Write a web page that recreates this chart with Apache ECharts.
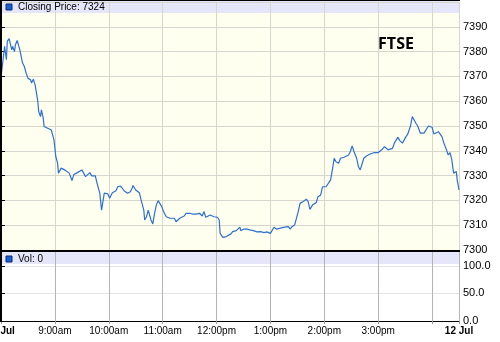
<!DOCTYPE html>
<html><head><meta charset="utf-8">
<script src="https://cdn.jsdelivr.net/npm/echarts@6/dist/echarts.min.js"></script>
<style>html,body{margin:0;padding:0;background:#fff}#c{width:500px;height:342px}</style>
</head><body><div id="c"></div><script>
// minutes after 08:00 on 11 Jul
const minutesFromOpen = [0,1,3,4,6,7,9,10,12,13,15,16,18,19,21,24,26,28,30,33,34,36,38,39,41,42,44,45,47,48,50,52,53,56,58,59,61,63,64,67,69,71,73,76,79,81,83,85,87,90,92,94,96,99,101,103,105,107,110,112,115,117,119,121,124,126,128,130,133,135,137,139,141,144,146,147,150,152,154,156,159,160,162,164,167,169,171,173,175,177,179,181,184,186,188,190,193,195,197,199,201,204,206,208,210,213,215,217,219,221,224,226,228,230,233,235,237,239,241,243,244,247,249,251,253,256,258,260,262,264,266,267,270,272,274,277,281,285,289,293,296,300,302,304,307,309,311,313,316,318,320,322,324,327,329,331,333,336,338,340,342,344,347,349,351,353,356,358,360,362,364,367,369,371,373,376,378,380,382,384,387,389,391,393,396,398,400,402,404,407,409,411,413,416,418,420,422,424,427,429,431,433,436,438,440,442,444,447,449,451,453,456,458,460,462,464,467,469,471,473,476,478,480,482,484,487,489,491,493,496,498,500,502,504,507,508,510];
const closingPrice = [7369.9,7372.6,7372.9,7382.1,7376.7,7384.1,7385.2,7384.8,7380.7,7382.1,7380.0,7382.7,7384.5,7383.7,7380.7,7375.4,7374.0,7371.3,7369.3,7368.6,7367.3,7368.9,7366.6,7365.9,7359.9,7355.8,7353.8,7356.5,7353.2,7349.8,7350.0,7349.1,7349.8,7348.4,7347.7,7344.4,7337.7,7335.0,7331.0,7333.0,7333.6,7332.3,7332.6,7331.0,7328.0,7330.3,7329.6,7331.2,7330.7,7332.3,7331.0,7329.6,7329.3,7331.2,7329.9,7329.3,7329.9,7326.9,7322.9,7316.1,7322.9,7322.2,7322.6,7320.9,7323.1,7322.9,7323.9,7325.5,7325.8,7324.9,7323.9,7323.5,7322.9,7323.5,7324.9,7326.0,7324.2,7323.9,7323.1,7320.2,7316.1,7312.1,7313.4,7316.1,7312.1,7310.5,7314.8,7318.2,7319.9,7319.1,7317.5,7315.5,7313.4,7314.1,7312.8,7312.1,7312.8,7311.4,7312.1,7312.8,7312.1,7313.7,7314.8,7314.1,7314.8,7314.5,7315.1,7314.5,7314.1,7314.8,7313.7,7315.5,7313.2,7313.4,7314.1,7314.8,7313.4,7312.8,7313.2,7312.1,7306.7,7305.1,7304.8,7305.4,7305.4,7306.5,7307.4,7307.8,7307.8,7308.4,7309.2,7307.8,7308.4,7307.8,7308.4,7308.1,7307.8,7307.3,7307.4,7307.0,7307.3,7306.7,7306.5,7309.2,7308.4,7308.1,7308.8,7308.1,7309.2,7308.4,7309.4,7308.4,7309.4,7310.1,7310.5,7315.5,7318.8,7319.5,7318.8,7320.5,7319.5,7316.4,7318.2,7317.5,7319.1,7321.5,7322.2,7325.5,7326.2,7325.5,7325.8,7328.3,7332.3,7337.0,7335.6,7335.0,7337.0,7337.7,7337.4,7337.9,7338.3,7339.7,7342.0,7339.7,7337.0,7333.6,7332.3,7333.0,7337.0,7337.9,7338.3,7338.7,7339.0,7339.3,7338.7,7339.3,7340.1,7340.4,7341.7,7341.0,7340.4,7340.1,7341.0,7343.1,7342.8,7345.5,7344.1,7343.1,7343.1,7345.7,7346.8,7350.0,7353.8,7353.6,7351.1,7350.0,7347.1,7346.4,7347.1,7346.8,7350.0,7350.5,7349.5,7346.8,7347.1,7347.7,7347.3,7345.7,7343.3,7340.4,7338.3,7339.3,7336.3,7331.0,7331.6,7328.3,7324.2];
const xTickValues = [0,60,120,180,240,300,360,420,480,510];
const xTickLabels = ['11 Jul','9:00am','10:00am','11:00am','12:00pm','1:00pm','2:00pm','3:00pm','','12 Jul'];
const dateTicks = ['11 Jul','12 Jul'];
const volTickValues = [0,50,100];
const lastClose = 7324;
const lastVol = 0;
const indexName = 'FTSE';

const chart = echarts.init(document.getElementById('c'), null, {renderer:'canvas'});
const pts = minutesFromOpen.map((m,i)=>[m, closingPrice[i]]);
const FONT = 'Liberation Sans';
function xLabel(v){
  const i = xTickValues.indexOf(v);
  if (i < 0) return '';
  const s = xTickLabels[i];
  if (!s) return '';
  return dateTicks.includes(s) ? '{d|'+s+'}' : s;
}
const option = {
  animation:false,
  backgroundColor:'#ffffff',
  grid:[
    {left:1, right:41, top:2, height:248, outerBoundsMode:'none', containLabel:false},
    {left:1, right:41, top:252, height:69, outerBoundsMode:'none', containLabel:false}
  ],
  xAxis:[
    {gridIndex:0, type:'value', min:0, max:510, interval:60,
     axisLine:{show:false}, axisTick:{show:false}, axisLabel:{show:false},
     splitLine:{show:true, lineStyle:{color:'#d6d6cc', width:1}}},
    {gridIndex:1, type:'value', min:0, max:510, interval:60,
     axisLine:{show:true, lineStyle:{color:'#000', width:1}},
     axisTick:{show:true, length:3, lineStyle:{color:'#999'}},
     axisLabel:{show:true, interval:0, margin:5, color:'#000', fontFamily:FONT, fontSize:10,
       formatter:xLabel, showMinLabel:true, showMaxLabel:true,
       alignMinLabel:'center', alignMaxLabel:'center',
       rich:{d:{fontWeight:'bold', fontFamily:FONT, fontSize:10, color:'#000'}}},
     splitLine:{show:true, lineStyle:{color:'#b4b4b4', width:1}}}
  ],
  yAxis:[
    {gridIndex:0, type:'value', position:'right', min:7300, max:7400, interval:10,
     axisLine:{show:true, lineStyle:{color:'#000', width:1}},
     axisTick:{show:true, inside:false, length:4, lineStyle:{color:'#000'}},
     axisLabel:{show:true, margin:4, color:'#000', fontFamily:FONT, fontSize:11, showMaxLabel:false,
       formatter:(v)=>String(Math.round(v))},
     splitLine:{show:true, lineStyle:{color:'#d6d6cc', width:1}}},
    {gridIndex:1, type:'value', position:'right', min:0, max:125, interval:50,
     axisLine:{show:true, lineStyle:{color:'#000', width:1}},
     axisTick:{show:true, length:4, lineStyle:{color:'#000'}, customValues:volTickValues},
     axisLabel:{show:true, margin:4, color:'#000', fontFamily:FONT, fontSize:11,
       customValues:volTickValues, formatter:(v)=>Number(v).toFixed(1)},
     splitLine:{show:true, lineStyle:{color:'#e4e4e4', width:1}}}
  ],
  series:[
    {type:'line', xAxisIndex:0, yAxisIndex:0, data:pts, showSymbol:false, symbol:'none',
     lineStyle:{color:'#2e6fd2', width:1.2}, z:5}
  ],
  graphic:[
    {type:'rect', z:-10, silent:true, shape:{x:1, y:1, width:458, height:250}, style:{fill:'#fffff0'}},
    {type:'rect', z:-9, silent:true, shape:{x:1, y:1, width:458, height:12}, style:{fill:'#e6e6fa'}},
    {type:'rect', z:-9, silent:true, shape:{x:1, y:252, width:458, height:12}, style:{fill:'#e6e6fa'}},
    {type:'rect', z:10, silent:true, shape:{x:0, y:0, width:2, height:322}, style:{fill:'#000'}},
    {type:'rect', z:10, silent:true, shape:{x:0, y:0, width:460, height:1}, style:{fill:'#000'}},
    {type:'rect', z:10, silent:true, shape:{x:0, y:250, width:460, height:2}, style:{fill:'#000'}},
    {type:'rect', z:10, silent:true, shape:{x:6, y:4, width:6, height:6}, style:{fill:'#1560d8', stroke:'#0a2a6a', lineWidth:1}},
    {type:'text', z:10, silent:true, x:18, y:7, style:{text:'Closing Price: '+lastClose, fill:'#000', font:'10px "Liberation Sans"', textVerticalAlign:'middle'}},
    {type:'rect', z:10, silent:true, shape:{x:6, y:256, width:6, height:6}, style:{fill:'#1560d8', stroke:'#0a2a6a', lineWidth:1}},
    {type:'text', z:10, silent:true, x:18, y:259, style:{text:'Vol: '+lastVol, fill:'#000', font:'10px "Liberation Sans"', textVerticalAlign:'middle'}},
    {type:'text', z:10, silent:true, x:396, y:44, style:{text:indexName, fill:'#000', font:'bold 16px "Open Sans"', textAlign:'center', textVerticalAlign:'middle'}}
  ]
};
chart.setOption(option);
</script></body></html>
